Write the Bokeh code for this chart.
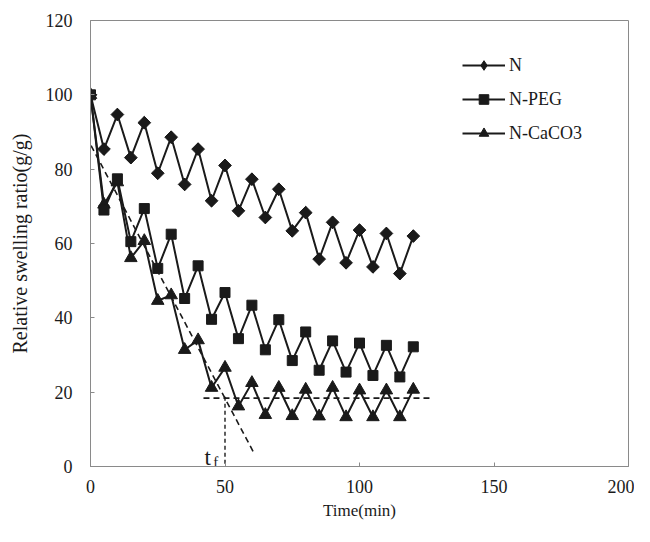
from bokeh.plotting import figure
from bokeh.models import Range1d, FixedTicker, Legend, LegendItem
from bokeh.core.properties import value
from bokeh.embed import file_html
from bokeh.resources import INLINE
import math

# ---- data ----
time_min = [0, 5, 10, 15, 20, 25, 30, 35, 40, 45, 50, 55, 60,
            65, 70, 75, 80, 85, 90, 95, 100, 105, 110, 115, 120]
n_vals = [100, 85.4, 94.7, 83.1, 92.5, 78.9, 88.6, 75.9, 85.4, 71.5, 81.0, 68.8, 77.3,
          67.0, 74.6, 63.4, 68.3, 55.8, 65.7, 54.8, 63.6, 53.7, 62.7, 51.9, 62.0]
peg_vals = [100, 69.0, 77.4, 60.5, 69.4, 53.3, 62.5, 45.2, 54.0, 39.6, 46.8, 34.4, 43.4,
            31.4, 39.5, 28.5, 36.2, 25.9, 33.8, 25.4, 33.2, 24.5, 32.6, 24.1, 32.2]
caco3_vals = [100, 70.5, 76.5, 56.1, 60.7, 44.6, 46.1, 31.4, 34.0, 21.2, 26.6, 16.2, 22.5,
              13.9, 21.2, 13.6, 20.7, 13.5, 21.2, 13.3, 20.5, 13.3, 20.5, 13.3, 20.7]
series_names = ["N", "N-PEG", "N-CaCO3"]

x_ticks = [0, 50, 100, 150, 200]
y_ticks = [0, 20, 40, 60, 80, 100, 120]

# guide lines (tangent fit, plateau, t_f marker)
fit_x = [-5, 61]
fit_y = [93.5, 3.3]
plateau_x = [42, 127]
plateau_y = [18.4, 18.4]
tf_x = [50, 50]
tf_y = [18.8, -1]
tf_text_x = [43.6]
tf_text_y = [2.4]
tf_sub_x = [46.6]
tf_sub_y = [1.2]

FONT = "Liberation Serif"
INK = "#1a1a1a"

p = figure(width=634, height=526, output_backend="svg", toolbar_location=None,
           x_range=Range1d(0, 200), y_range=Range1d(0, 120),
           min_border_left=90, min_border_right=6, min_border_top=20, min_border_bottom=60,
           x_axis_label="Time(min)", y_axis_label="Relative swelling ratio(g/g)")

p.xgrid.visible = False
p.ygrid.visible = False
p.outline_line_color = "#8a8a8a"
p.outline_line_width = 1
p.background_fill_color = "white"
p.border_fill_color = "white"

p.xaxis.ticker = FixedTicker(ticks=x_ticks)
p.yaxis.ticker = FixedTicker(ticks=y_ticks)
for ax in (p.xaxis[0], p.yaxis[0]):
    ax.axis_line_color = "#8a8a8a"
    ax.major_tick_line_color = "#8a8a8a"
    ax.major_tick_in = 4
    ax.major_tick_out = 0
    ax.minor_tick_line_color = None
    ax.major_label_text_font = FONT
    ax.major_label_text_font_size = "18px"
    ax.major_label_text_color = INK
    ax.axis_label_text_font = FONT
    ax.axis_label_text_font_style = "normal"
    ax.axis_label_text_color = INK
p.yaxis.major_label_standoff = 18
p.xaxis.major_label_standoff = 13
p.yaxis.axis_label_standoff = 12
p.xaxis.axis_label_standoff = 5
p.yaxis.axis_label_text_font_size = "20px"
p.xaxis.axis_label_text_font_size = "17px"

# guide lines
p.line(fit_x, fit_y, line_color=INK, line_width=1.6, line_dash="6 4")
p.line(plateau_x, plateau_y, line_color=INK, line_width=1.6, line_dash="6 4")
p.line(tf_x, tf_y, line_color=INK, line_width=1.4, line_dash="4 3")
p.text(tf_text_x, tf_text_y, text=["t"], text_font=value(FONT), text_font_size="23px",
       text_align="center", text_baseline="alphabetic", text_color=INK)
p.text(tf_sub_x, tf_sub_y, text=["f"], text_font=value(FONT), text_font_size="15px",
       text_align="center", text_baseline="alphabetic", text_color=INK)

# series
l1 = p.line(time_min, n_vals, line_color=INK, line_width=2)
# diamond key (used by the legend, covered by the rotated squares in the plot)
k1 = p.scatter(time_min, n_vals, marker="diamond", size=12,
               fill_color=INK, line_color=INK)
m1 = p.scatter(time_min, n_vals, marker="square", angle=math.pi / 4, size=9,
               fill_color=INK, line_color=INK)
l3 = p.line(time_min, caco3_vals, line_color=INK, line_width=2)
m3 = p.scatter(time_min, caco3_vals, marker="triangle", size=12.5,
               fill_color=INK, line_color=INK)
l2 = p.line(time_min, peg_vals, line_color=INK, line_width=2)
m2 = p.scatter(time_min, peg_vals, marker="square", size=10,
               fill_color=INK, line_color=INK)

legend = Legend(items=[
    LegendItem(label=series_names[0], renderers=[l1, k1]),
    LegendItem(label=series_names[1], renderers=[l2, m2]),
    LegendItem(label=series_names[2], renderers=[l3, m3]),
], location=(372, 321))
legend.label_text_font = FONT
legend.label_text_font_size = "18px"
legend.label_text_color = INK
legend.glyph_width = 43
legend.glyph_height = 24
legend.label_height = 24
legend.spacing = 10
legend.padding = 10
legend.label_standoff = 4
legend.border_line_color = None
legend.background_fill_alpha = 0
p.add_layout(legend)

open("out.html", "w").write(file_html(p, INLINE))
